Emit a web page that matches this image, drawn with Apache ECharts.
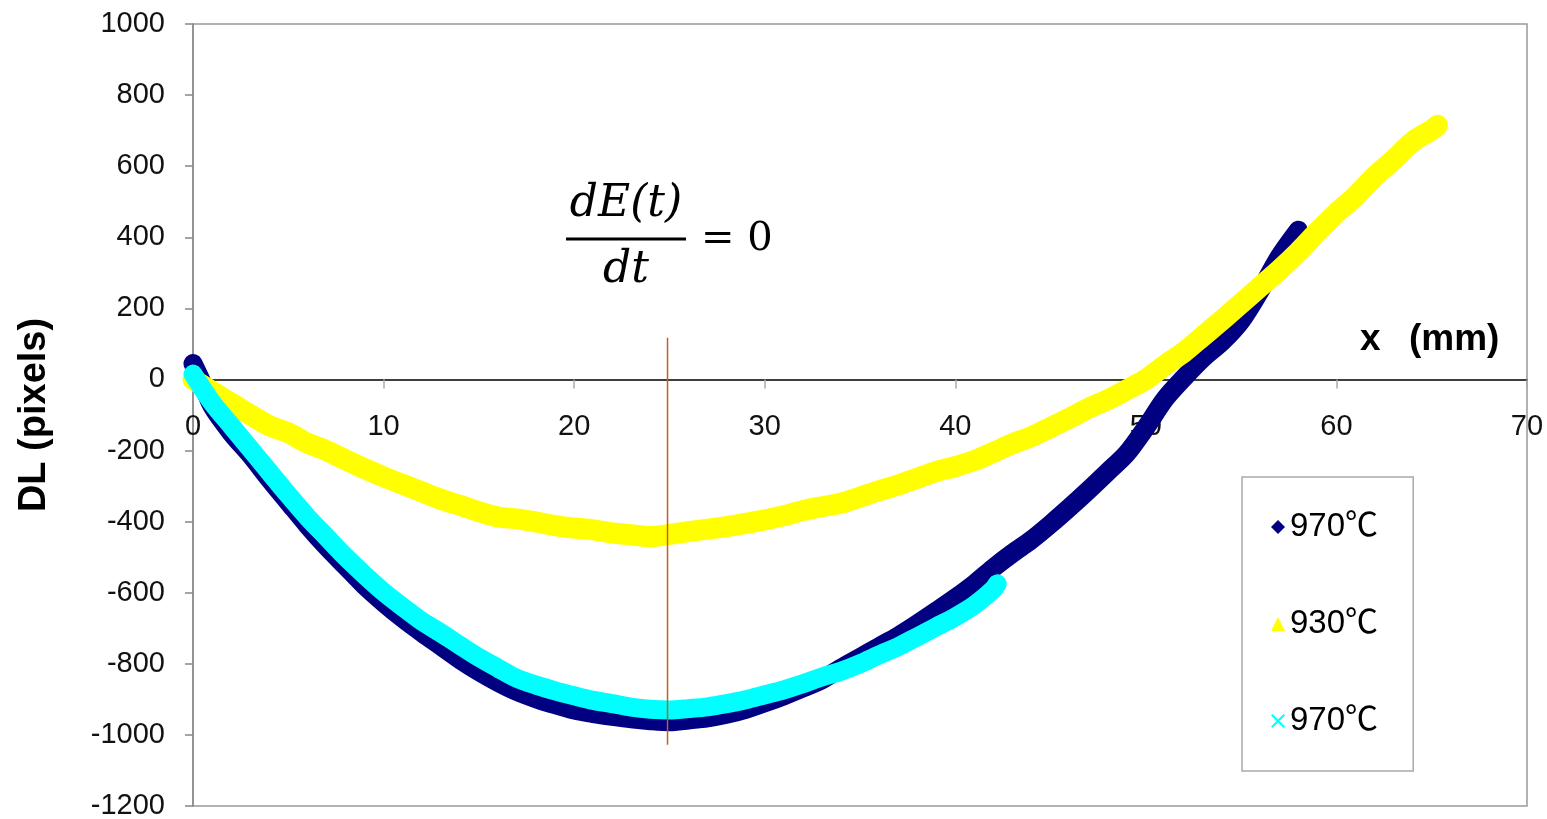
<!DOCTYPE html>
<html>
<head>
<meta charset="utf-8">
<title>DL vs x</title>
<script src="https://cdn.jsdelivr.net/npm/echarts@6/dist/echarts.min.js"></script>
<style>
  html, body { margin: 0; padding: 0; background: #fff; }
  #chart { width: 1547px; height: 819px; }
</style>
</head>
<body>
<div id="chart"></div>
<script>
// series (x in mm, DL in pixels)
const xDark = [0, 0.4, 1, 2, 3, 4, 5, 6, 7, 8, 9, 10, 11, 12, 13, 14, 15, 16, 17, 18, 19, 20,
  21, 22, 23, 24, 25, 26, 27, 28, 29, 30, 31, 32, 33, 34, 35, 36, 37, 38, 39, 40,
  41, 42, 43, 44, 45, 46, 47, 48, 49, 50, 51, 52, 53, 54, 55, 56, 57, 58];
const yDark = [45, 0, -75, -150, -212, -280, -345, -410, -470, -525, -580, -628, -672, -712, -750, -788, -822, -852, -878, -898, -915, -930,
  -940, -948, -955, -960, -963, -958, -952, -942, -928, -910, -890, -868, -845, -812, -782, -752, -722, -688, -652, -615,
  -575, -530, -489, -451, -407, -360, -311, -260, -208, -135, -55, 5, 60, 106, 165, 250, 345, 420];

const xYellow = [0, 1, 2, 3, 4, 5, 6, 7, 8, 9, 10, 11, 12, 13, 14, 15, 16, 17, 18, 19, 20,
  21, 22, 23, 24, 25, 26, 27, 28, 29, 30, 31, 32, 33, 34, 35, 36, 37, 38, 39, 40,
  41, 42, 43, 44, 45, 46, 47, 48, 49, 50, 51, 52, 53, 54, 55, 56, 57, 58, 59, 60,
  61, 62, 63, 64, 65, 65.3];
const yYellow = [0, -34, -66, -99, -130, -150, -179, -200, -226, -251, -274, -295, -316, -337, -354, -372, -387, -392, -401, -411, -418,
  -423, -432, -437, -442, -436, -428, -421, -414, -405, -395, -383, -369, -358, -348, -331, -313, -297, -278, -259, -245,
  -228, -205, -181, -161, -135, -109, -81, -57, -29, 0, 40, 77, 122, 167, 214, 261, 308, 359, 415, 468,
  515, 571, 618, 669, 702, 715];

const xCyan = [0, 1, 2, 3, 4, 5, 6, 7, 8, 9, 10, 11, 12, 13, 14, 15, 16, 17, 18, 19, 20,
  21, 22, 23, 24, 25, 26, 27, 28, 29, 30, 31, 32, 33, 34, 35, 36, 37, 38, 39, 40, 41, 42, 42.2];
const yCyan = [15, -65, -130, -195, -260, -325, -387, -443, -499, -550, -598, -640, -680, -713, -748, -782, -812, -841, -860, -876, -890,
  -903, -912, -922, -928, -930, -926, -921, -912, -901, -887, -873, -856, -837, -821, -800, -775, -752, -724, -696, -668, -635, -590, -575];

// vertical marker where dE(t)/dt = 0
const xMarker = [24.9, 24.9];
const yMarker = [117, -1028];

const seriesNames = ['970℃', '930℃', '970℃ '];
const seriesColors = ['#000080', '#ffff00', '#00ffff'];
const xTicks = { min: 0, max: 70, step: 10 };
const yTicks = { min: -1200, max: 1000, step: 200 };

function zip(xs, ys) {
  return xs.map(function (x, i) { return [x, ys[i]]; });
}

const crossIcon = 'path://M0,1L1,0L5,4L9,0L10,1L6,5L10,9L9,10L5,6L1,10L0,9L4,5Z';

const myChart = echarts.init(document.getElementById('chart'));

const labelFont = '"Liberation Sans", Arial, sans-serif';

// plot box in pixels
const gridTop = 24, gridBottom = 13, chartH = 819;
// the x axis sits on DL = 0, so move it up from the bottom edge
const plotH = chartH - gridTop - gridBottom;
const xAxisOffset = -plotH * (0 - yTicks.min) / (yTicks.max - yTicks.min);

function band(name, color, xs, ys, width) {
  return {
    name: name,
    type: 'line',
    data: zip(xs, ys),
    showSymbol: false,
    symbol: 'none',
    smooth: 0.3,
    color: color,
    itemStyle: { color: color },
    lineStyle: { color: color, width: width, cap: 'round', join: 'round' },
    animation: false
  };
}

const option = {
  backgroundColor: '#fff',
  animation: false,
  grid: {
    left: 193,
    right: 20,
    top: gridTop,
    bottom: gridBottom,
    containLabel: false,
    outerBoundsMode: 'none',
    show: true,
    borderColor: '#999',
    borderWidth: 1.5
  },
  legend: {
    orient: 'vertical',
    left: 1242,
    top: 477,
    padding: [33, 26, 33, 29],
    itemGap: 63,
    itemWidth: 14,
    itemHeight: 14,
    borderColor: '#aaa',
    borderWidth: 1.5,
    selectedMode: false,
    textStyle: {
      fontSize: 33,
      lineHeight: 34,
      color: '#000',
      fontFamily: '"Liberation Sans", "Noto Sans CJK SC", sans-serif'
    },
    data: [
      { name: seriesNames[0], icon: 'diamond' },
      { name: seriesNames[1], icon: 'triangle' },
      { name: seriesNames[2], icon: crossIcon }
    ]
  },
  xAxis: {
    type: 'value',
    position: 'bottom',
    offset: xAxisOffset,
    min: xTicks.min,
    max: xTicks.max,
    interval: xTicks.step,
    axisLine: { show: true, onZero: false, lineStyle: { color: '#000', width: 1.5 } },
    axisTick: { show: true, inside: false, length: 9, lineStyle: { color: '#aaa', width: 1.5 } },
    axisLabel: {
      show: true,
      margin: 33,
      fontSize: 29,
      color: '#111',
      fontFamily: labelFont,
      showMinLabel: true,
      showMaxLabel: true
    },
    splitLine: { show: false }
  },
  yAxis: {
    type: 'value',
    min: yTicks.min,
    max: yTicks.max,
    interval: yTicks.step,
    axisLine: { show: true, lineStyle: { color: '#888', width: 1.5 } },
    axisTick: { show: true, inside: false, length: 8, lineStyle: { color: '#888', width: 1.5 } },
    axisLabel: {
      margin: 28,
      fontSize: 29,
      color: '#111',
      fontFamily: labelFont,
      formatter: function (v) { return String(v); }
    },
    splitLine: { show: false }
  },
  graphic: [
    {
      type: 'text',
      x: 35,
      y: 415,
      rotation: Math.PI / 2,
      style: {
        text: 'DL (pixels)',
        font: 'bold 38px "Liberation Sans", Arial, sans-serif',
        fill: '#000',
        align: 'center',
        verticalAlign: 'middle'
      }
    },
    {
      type: 'text',
      x: 1360,
      y: 340,
      style: {
        text: 'x',
        font: 'bold 37px "Liberation Sans", Arial, sans-serif',
        fill: '#000',
        align: 'left',
        verticalAlign: 'middle'
      }
    },
    {
      type: 'text',
      x: 1409,
      y: 340,
      style: {
        text: '(mm)',
        font: 'bold 37px "Liberation Sans", Arial, sans-serif',
        fill: '#000',
        align: 'left',
        verticalAlign: 'middle'
      }
    },
    {
      type: 'text',
      x: 626,
      y: 205,
      style: {
        text: 'dE(t)',
        font: 'italic 44px "DejaVu Serif", serif',
        fill: '#000',
        align: 'center',
        verticalAlign: 'middle'
      }
    },
    {
      type: 'line',
      shape: { x1: 566, y1: 239, x2: 686, y2: 239 },
      style: { stroke: '#000', lineWidth: 3 }
    },
    {
      type: 'text',
      x: 626,
      y: 271,
      style: {
        text: 'dt',
        font: 'italic 44px "DejaVu Serif", serif',
        fill: '#000',
        align: 'center',
        verticalAlign: 'middle'
      }
    },
    {
      type: 'text',
      x: 701,
      y: 240,
      style: {
        text: '= 0',
        font: '40px "DejaVu Serif", serif',
        fill: '#000',
        align: 'left',
        verticalAlign: 'middle'
      }
    }
  ],
  series: [
    band(seriesNames[0], seriesColors[0], xDark, yDark, 19),
    band(seriesNames[1], seriesColors[1], xYellow, yYellow, 21),
    band(seriesNames[2], seriesColors[2], xCyan, yCyan, 19),
    {
      name: 'dEdt',
      type: 'line',
      data: zip(xMarker, yMarker),
      symbol: 'none',
      silent: true,
      lineStyle: { color: '#c0621f', width: 1.5 },
      z: 5
    }
  ]
};

myChart.setOption(option);
</script>
</body>
</html>
